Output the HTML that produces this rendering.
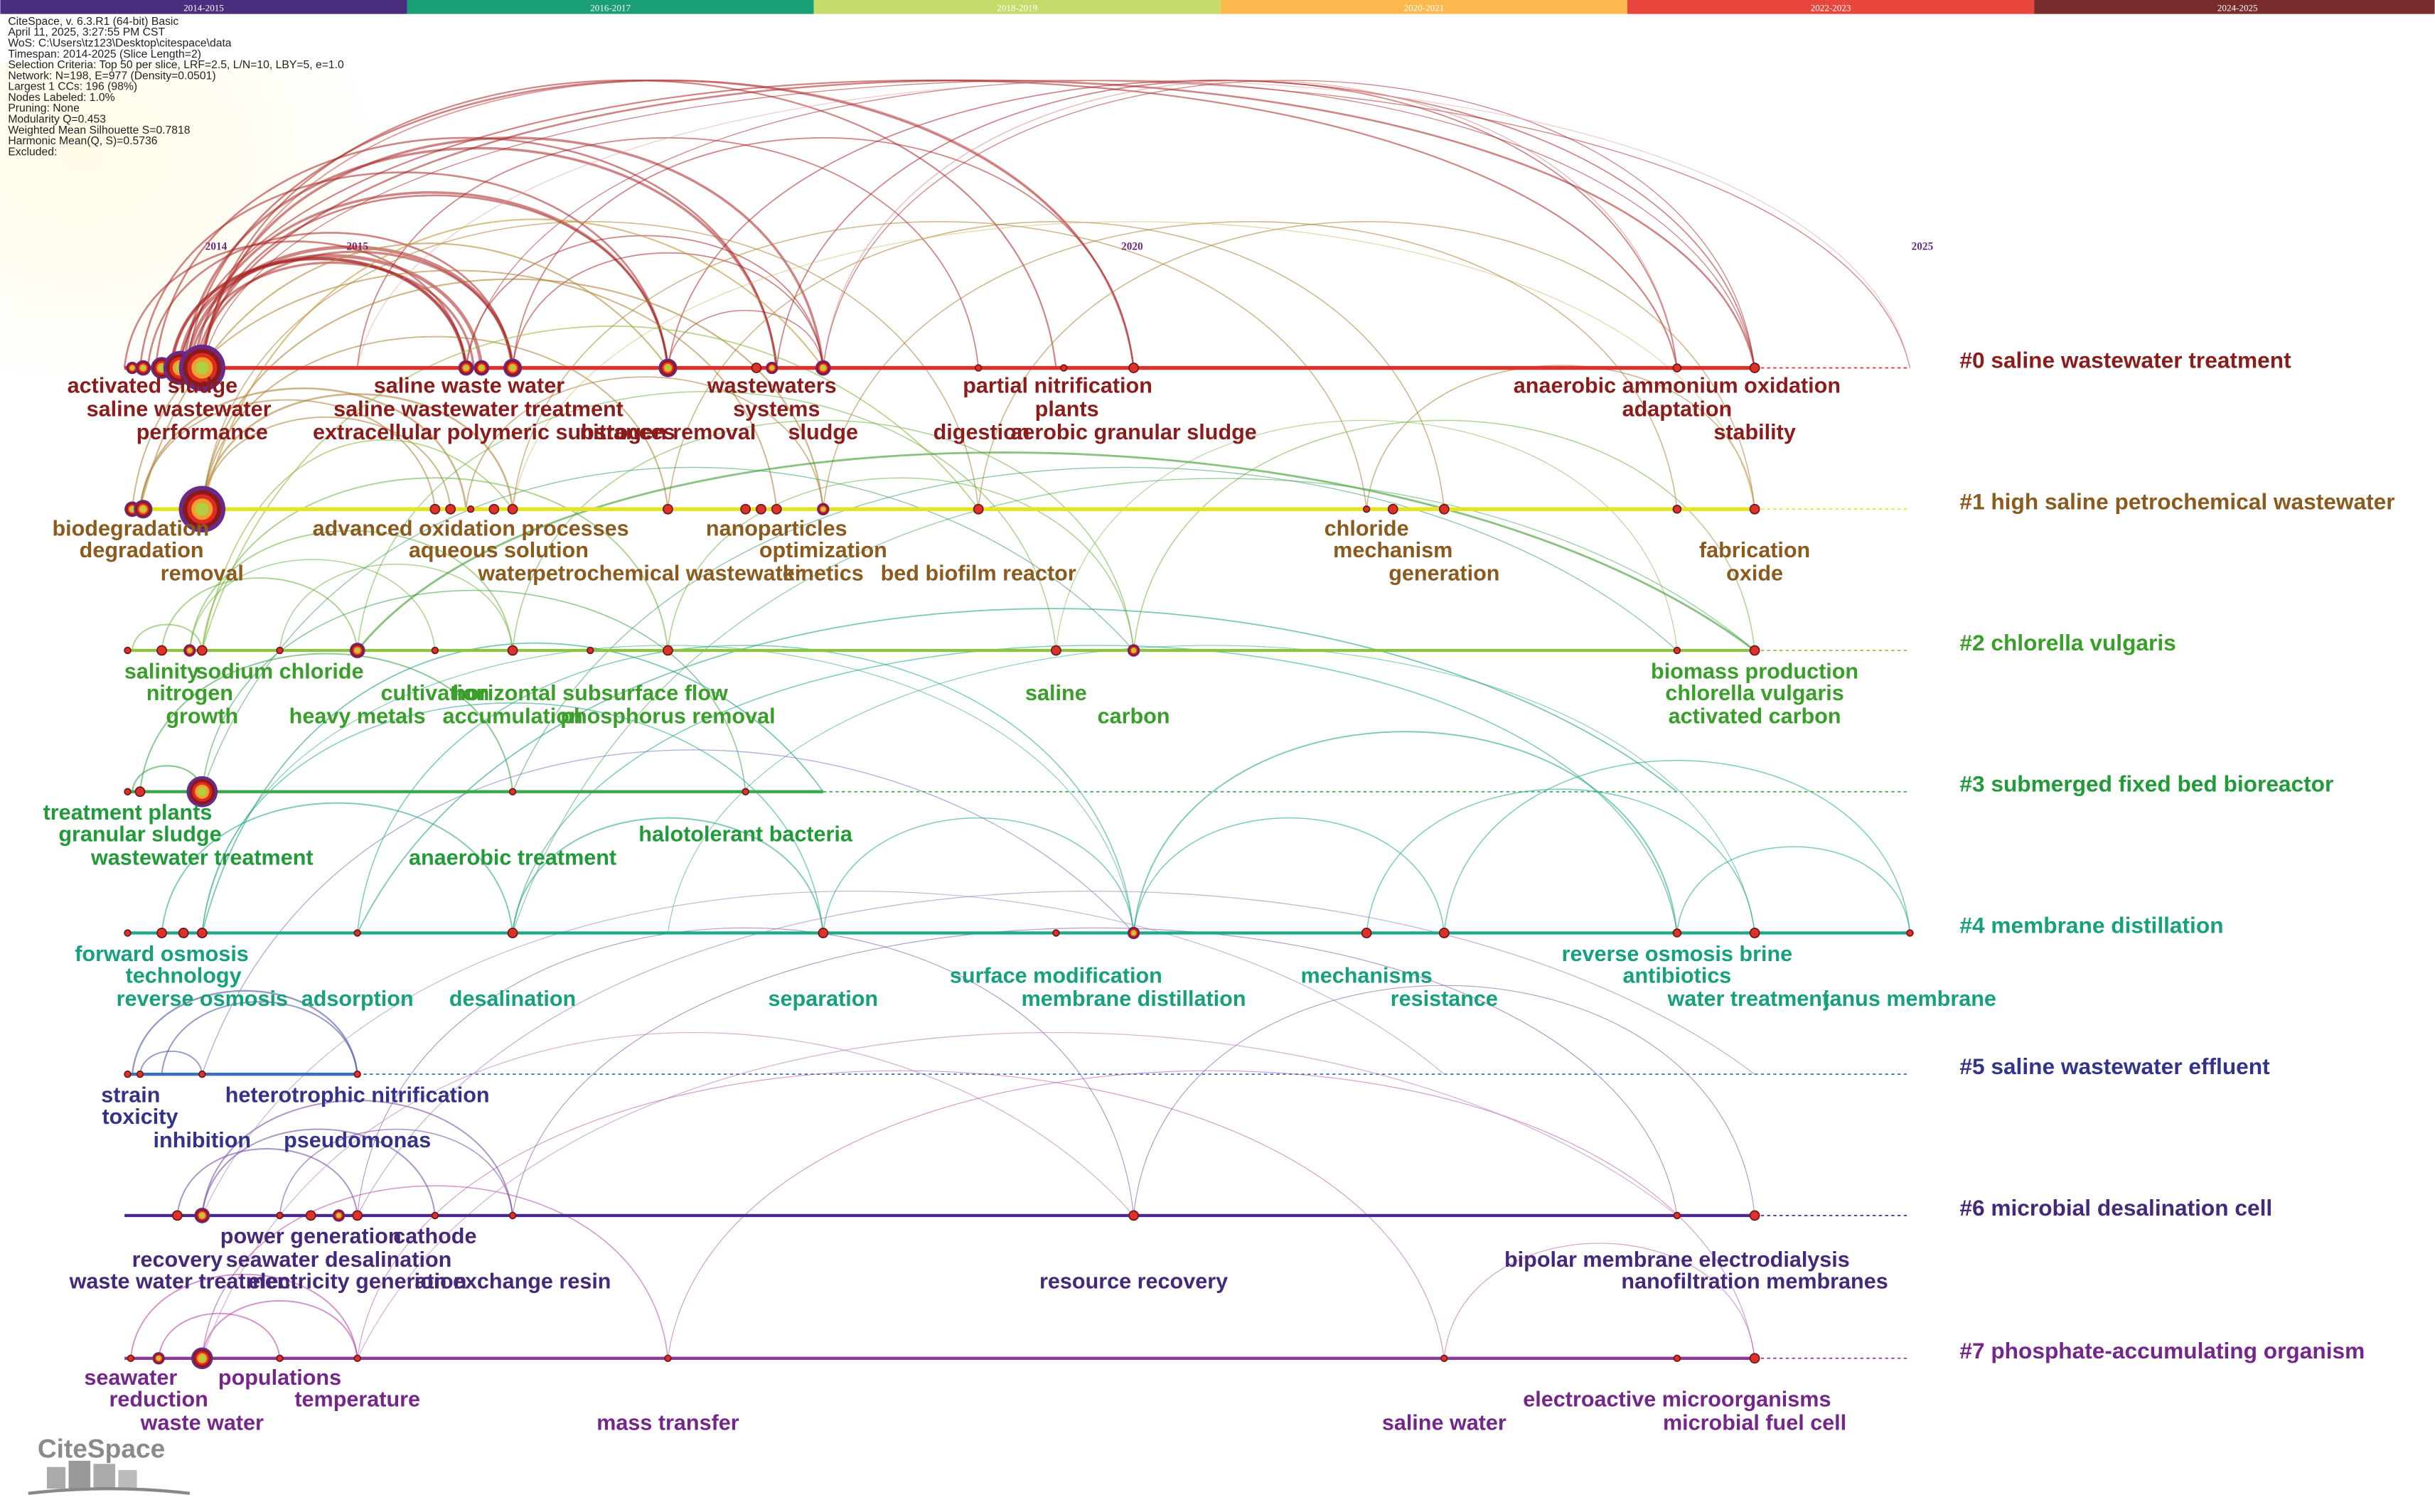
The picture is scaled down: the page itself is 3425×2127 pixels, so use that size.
<!DOCTYPE html>
<html><head><meta charset="utf-8"><style>
html,body{margin:0;padding:0;background:#fff;}
svg{display:block;}
.l{font-family:"Liberation Sans Narrow","Liberation Sans",sans-serif;font-weight:bold;font-size:14px;text-anchor:middle;}
.c{font-family:"Liberation Sans",sans-serif;font-weight:bold;font-size:14.5px;}
.h{font-family:"Liberation Sans Narrow","Liberation Sans",sans-serif;font-size:7.2px;fill:#222;}
.y{font-family:"Liberation Serif",serif;font-size:7px;font-weight:bold;fill:#6a2a7a;text-anchor:middle;}
.b{font-family:"Liberation Serif",serif;font-size:6px;fill:#fff;text-anchor:middle;}
</style></head><body>
<svg id="s" width="3425" height="2127" viewBox="0 0 1568 974" xmlns="http://www.w3.org/2000/svg">
<defs><radialGradient id="gl" cx="0.2" cy="0.3" r="0.8"><stop offset="0" stop-color="#fffbe6"/><stop offset="1" stop-color="#fffbe6" stop-opacity="0"/></radialGradient></defs>
<rect x="0" y="0" width="1568" height="974" fill="#fff"/>
<rect x="0" y="40" width="260" height="200" fill="url(#gl)"/>
<g>
<rect x="0" y="0" width="262" height="9" fill="#4b2d7f"/>
<rect x="262" y="0" width="262" height="9" fill="#1a9e77"/>
<rect x="524" y="0" width="262" height="9" fill="#c5dc6b"/>
<rect x="786" y="0" width="262" height="9" fill="#fdb94e"/>
<rect x="1048" y="0" width="262" height="9" fill="#e8453c"/>
<rect x="1310" y="0" width="258" height="9" fill="#7a2c2c"/>
<text class="b" x="131" y="7">2014-2015</text><text class="b" x="393" y="7">2016-2017</text>
<text class="b" x="655" y="7">2018-2019</text><text class="b" x="917" y="7">2020-2021</text>
<text class="b" x="1179" y="7">2022-2023</text><text class="b" x="1441" y="7">2024-2025</text>
</g>
<g>
<text class="h" x="5" y="16">CiteSpace, v. 6.3.R1 (64-bit) Basic</text>
<text class="h" x="5" y="23">April 11, 2025, 3:27:55 PM CST</text>
<text class="h" x="5" y="30">WoS: C:\Users\tz123\Desktop\citespace\data</text>
<text class="h" x="5" y="37">Timespan: 2014-2025 (Slice Length=2)</text>
<text class="h" x="5" y="44">Selection Criteria: Top 50 per slice, LRF=2.5, L/N=10, LBY=5, e=1.0</text>
<text class="h" x="5" y="51">Network: N=198, E=977 (Density=0.0501)</text>
<text class="h" x="5" y="58">Largest 1 CCs: 196 (98%)</text>
<text class="h" x="5" y="65">Nodes Labeled: 1.0%</text>
<text class="h" x="5" y="72">Pruning: None</text>
<text class="h" x="5" y="79">Modularity Q=0.453</text>
<text class="h" x="5" y="86">Weighted Mean Silhouette S=0.7818</text>
<text class="h" x="5" y="93">Harmonic Mean(Q, S)=0.5736</text>
<text class="h" x="5" y="100">Excluded:</text>
</g>
<text class="y" x="139" y="161">2014</text><text class="y" x="230" y="161">2015</text>
<text class="y" x="729" y="161">2020</text><text class="y" x="1238" y="161">2025</text>
<g id="arcs" fill="none"></g>
<g id="lines"></g>
<g id="nodes"></g>
<g>
<g fill="#8b1c1c">
<text class="l" x="98" y="253">activated sludge</text><text class="l" x="115" y="268">saline wastewater</text><text class="l" x="130" y="283">performance</text>
<text class="l" x="302" y="253">saline waste water</text><text class="l" x="308" y="268">saline wastewater treatment</text><text class="l" x="318" y="283">extracellular polymeric substances</text><text class="l" x="430" y="283">nitrogen removal</text>
<text class="l" x="497" y="253">wastewaters</text><text class="l" x="500" y="268">systems</text><text class="l" x="530" y="283">sludge</text>
<text class="l" x="681" y="253">partial nitrification</text><text class="l" x="687" y="268">plants</text><text class="l" x="632" y="283">digestion</text><text class="l" x="730" y="283">aerobic granular sludge</text>
<text class="l" x="1080" y="253">anaerobic ammonium oxidation</text><text class="l" x="1080" y="268">adaptation</text><text class="l" x="1130" y="283">stability</text>
<text class="c" x="1262" y="237">#0 saline wastewater treatment</text>
</g>
<g fill="#8a5a1e">
<text class="l" x="84" y="345">biodegradation</text><text class="l" x="91" y="359">degradation</text><text class="l" x="130" y="374">removal</text>
<text class="l" x="303" y="345">advanced oxidation processes</text><text class="l" x="321" y="359">aqueous solution</text><text class="l" x="326" y="374">water</text><text class="l" x="430" y="374">petrochemical wastewater</text>
<text class="l" x="500" y="345">nanoparticles</text><text class="l" x="530" y="359">optimization</text><text class="l" x="530" y="374">kinetics</text><text class="l" x="630" y="374">bed biofilm reactor</text>
<text class="l" x="880" y="345">chloride</text><text class="l" x="897" y="359">mechanism</text><text class="l" x="930" y="374">generation</text>
<text class="l" x="1130" y="359">fabrication</text><text class="l" x="1130" y="374">oxide</text>
<text class="c" x="1262" y="328">#1 high saline petrochemical wastewater</text>
</g>
<g fill="#3a9e2a">
<text class="l" x="104" y="437">salinity</text><text class="l" x="180" y="437">sodium chloride</text><text class="l" x="122" y="451">nitrogen</text><text class="l" x="130" y="466">growth</text>
<text class="l" x="230" y="466">heavy metals</text><text class="l" x="280" y="451">cultivation</text><text class="l" x="380" y="451">horizontal subsurface flow</text><text class="l" x="330" y="466">accumulation</text><text class="l" x="430" y="466">phosphorus removal</text>
<text class="l" x="680" y="451">saline</text><text class="l" x="730" y="466">carbon</text>
<text class="l" x="1130" y="437">biomass production</text><text class="l" x="1130" y="451">chlorella vulgaris</text><text class="l" x="1130" y="466">activated carbon</text>
<text class="c" x="1262" y="419">#2 chlorella vulgaris</text>
</g>
<g fill="#229a3a">
<text class="l" x="82" y="528">treatment plants</text><text class="l" x="90" y="542">granular sludge</text><text class="l" x="130" y="557">wastewater treatment</text>
<text class="l" x="330" y="557">anaerobic treatment</text><text class="l" x="480" y="542">halotolerant bacteria</text>
<text class="c" x="1262" y="510">#3 submerged fixed bed bioreactor</text>
</g>
<g fill="#17a07c">
<text class="l" x="104" y="619">forward osmosis</text><text class="l" x="118" y="633">technology</text><text class="l" x="130" y="648">reverse osmosis</text>
<text class="l" x="230" y="648">adsorption</text><text class="l" x="330" y="648">desalination</text><text class="l" x="530" y="648">separation</text>
<text class="l" x="680" y="633">surface modification</text><text class="l" x="730" y="648">membrane distillation</text>
<text class="l" x="880" y="633">mechanisms</text><text class="l" x="930" y="648">resistance</text>
<text class="l" x="1080" y="619">reverse osmosis brine</text><text class="l" x="1080" y="633">antibiotics</text><text class="l" x="1126" y="648">water treatment</text><text class="l" x="1230" y="648">janus membrane</text>
<text class="c" x="1262" y="601">#4 membrane distillation</text>
</g>
<g fill="#33338a">
<text class="l" x="84" y="710">strain</text><text class="l" x="90" y="724">toxicity</text><text class="l" x="130" y="739">inhibition</text>
<text class="l" x="230" y="710">heterotrophic nitrification</text><text class="l" x="230" y="739">pseudomonas</text>
<text class="c" x="1262" y="692">#5 saline wastewater effluent</text>
</g>
<g fill="#45287a">
<text class="l" x="114" y="816">recovery</text><text class="l" x="200" y="801">power generation</text><text class="l" x="280" y="801">cathode</text><text class="l" x="218" y="816">seawater desalination</text>
<text class="l" x="118" y="830">waste water treatment</text><text class="l" x="230" y="830">electricity generation</text><text class="l" x="330" y="830">ion exchange resin</text>
<text class="l" x="730" y="830">resource recovery</text><text class="l" x="1080" y="816">bipolar membrane electrodialysis</text><text class="l" x="1130" y="830">nanofiltration membranes</text>
<text class="c" x="1262" y="783">#6 microbial desalination cell</text>
</g>
<g fill="#75268a">
<text class="l" x="84" y="892">seawater</text><text class="l" x="102" y="906">reduction</text><text class="l" x="180" y="892">populations</text><text class="l" x="130" y="921">waste water</text><text class="l" x="230" y="906">temperature</text>
<text class="l" x="430" y="921">mass transfer</text><text class="l" x="930" y="921">saline water</text><text class="l" x="1080" y="906">electroactive microorganisms</text><text class="l" x="1130" y="921">microbial fuel cell</text>
<text class="c" x="1262" y="875">#7 phosphate-accumulating organism</text>
</g>
</g>
<g>
<text x="24" y="939" font-family="Liberation Sans,sans-serif" font-weight="bold" font-size="17" fill="#8a8a8a">CiteSpace</text>
<rect x="30" y="945" width="12" height="14" fill="#aaa"/><rect x="44" y="941" width="14" height="18" fill="#999"/><rect x="60" y="943" width="14" height="16" fill="#aaa"/><rect x="76" y="947" width="12" height="12" fill="#bbb"/>
<path d="M18 962 Q70 956 122 962" stroke="#888" stroke-width="2" fill="none"/>
</g>
</svg>
<script>
var NS="http://www.w3.org/2000/svg";
var R=[237,328,419,510,601,692,783,875];
var LC=["#e0302a","#e4e420","#8cc43c","#3aa84a","#20a88a","#3a6ec0","#4a2a8a","#8a3a9a"];
var AC=["#a82020","#a8782a","#6ab03a","#2a9a3a","#1aa080","#3a4a9a","#6a3a9a","#b03aa0"];
var LE=[1130,1130,1130,530,1230,230,1130,1130];
var arcs=document.getElementById("arcs"),lines=document.getElementById("lines"),nodes=document.getElementById("nodes");
function el(t,a,p){var e=document.createElementNS(NS,t);for(var k in a)e.setAttribute(k,a[k]);p.appendChild(e);return e;}
function arc(r,x1,x2,c,w,o,r2){var y1=R[r],y2=(r2===undefined)?y1:R[r2];var span=Math.abs(x2-x1);var h=Math.min(span*0.38,190);var top=Math.min(y1,y2)-h;
el("path",{d:"M"+x1+" "+y1+" C"+(x1+span*0.05)+" "+(top-h*0.3)+" "+(x2-span*0.05)+" "+(top-h*0.3)+" "+x2+" "+y2,stroke:c,"stroke-width":w,opacity:o},arcs);}
var T=[[0,[[110,300,2.2],[115,310,2.2],[120,330,2.2],[125,430,1.6],[118,500,1.6],[130,530,1.6],[110,300,1.5],[122,305,1.5],[128,330,1.5],[130,680,1],[120,730,1.2],[115,1080,1],[125,1130,1.2],[300,530,0.8],[330,730,0.8],[430,1130,0.8],[500,1080,0.8],[230,630,0.8],[90,430,1.2],[100,500,1.2],[130,1230,0.6],[300,1130,0.6],[530,1130,0.6],[80,300,1.2],[95,330,1.2],[130,430,1.2],[330,530,0.8],[430,530,0.7]]],
[1,[[90,300,1.2],[130,330,1.2],[130,430,0.9],[85,500,0.9],[130,530,1],[300,530,0.8],[130,630,0.7],[330,880,0.7],[430,930,0.7],[530,1080,0.7],[630,1130,0.7],[880,1130,0.7],[90,280,0.9],[130,290,0.9]]],
[2,[[85,130,0.9],[104,230,0.9],[122,330,0.9],[130,430,0.9],[230,680,0.7],[330,730,0.7],[430,730,0.7],[730,1130,0.7],[180,330,0.7],[122,280,0.7],[680,1080,0.5]]],
[3,[[85,130,1],[90,330,0.9],[130,480,0.7]]],
[4,[[104,330,0.9],[130,530,0.7],[230,730,0.7],[330,530,0.9],[330,1080,0.7],[530,730,0.7],[730,930,0.7],[730,1080,0.9],[880,1130,0.7],[930,1230,0.7],[1080,1230,0.7],[130,730,0.5],[430,1130,0.5]]],
[5,[[85,230,1.1],[90,130,0.9],[104,230,0.9]]],
[6,[[114,230,0.9],[130,280,0.9],[130,330,0.9],[180,330,0.7],[230,730,0.5],[730,1130,0.5],[330,1080,0.5]]],
[7,[[84,230,0.9],[102,180,0.9],[130,230,0.9],[130,430,0.7],[230,930,0.5],[430,1130,0.5],[930,1130,0.5]]]];
T.forEach(function(g){var r=g[0];g[1].forEach(function(a){arc(r,a[0],a[1],AC[r],a[2],0.55);});});
[[0,530,1080,"#d08080",0.7],[0,230,1230,"#e0a0a0",0.6],[0,130,730,"#c04040",0.9],[1,330,1130,"#d0b060",0.6]].forEach(function(a){arc(a[0],a[1],a[2],a[3],a[4],0.5);});
function cross(x1,r1,x2,r2,c,w){var y1=R[r1],y2=R[r2];var top=Math.min(y1,y2)-Math.min(Math.abs(x2-x1)*0.35,170);
el("path",{d:"M"+x1+" "+y1+" C"+(x1+(x2-x1)*0.15)+" "+top+" "+(x2-(x2-x1)*0.25)+" "+top+" "+x2+" "+y2,stroke:c,"stroke-width":w,opacity:0.6},arcs);}
cross(230,2,1130,2,"#3a9a2a",1.3);cross(130,1,530,0,"#c09a3a",1);cross(90,1,430,0,"#b08a3a",1);cross(130,2,630,1,"#8ab83a",0.8);
cross(130,2,330,1,"#8ab83a",0.8);cross(230,4,1080,3,"#20a080",0.8);cross(130,4,530,3,"#20a080",0.8);cross(330,4,1130,2,"#50b060",0.6);
cross(130,5,730,4,"#6a7ac0",0.6);cross(230,6,1130,5,"#a080c0",0.6);cross(130,7,730,6,"#c080c0",0.6);cross(230,7,1080,6,"#c080c0",0.6);
cross(130,3,730,2,"#40a060",0.6);cross(330,3,1080,2,"#40a060",0.6);cross(130,6,930,5,"#9a7ac0",0.5);
for(var i=0;i<8;i++){el("line",{x1:80,y1:R[i],x2:LE[i],y2:R[i],stroke:LC[i],"stroke-width":i<2?2.5:2},lines);
el("line",{x1:LE[i],y1:R[i],x2:1230,y2:R[i],stroke:LC[i],"stroke-width":0.8,"stroke-dasharray":"2,2"},lines);}
function node(r,x,s){var y=R[r];var cols=["#6a2a8a","#8a1a1a","#e02a20","#f0a030","#b0d040"];
if(s<=3){el("circle",{cx:x,cy:y,r:s,fill:"#e0302a",stroke:"#6a1a1a","stroke-width":0.8},nodes);return;}
for(var k=0;k<5;k++){el("circle",{cx:x,cy:y,r:s*(1-k*0.18),fill:cols[k]},nodes);}}
[[0,[[85,4],[92,5],[104,7],[116,11],[130,15],[300,5],[310,5],[330,6],[430,6],[487,3],[497,4],[530,5],[630,2],[685,2],[730,3],[1080,2.5],[1130,3]]],
[1,[[85,5],[92,6],[130,15],[280,3],[290,3],[303,2],[318,3],[330,3],[430,3],[480,3],[490,3],[500,3],[530,4],[630,3],[880,2],[897,3],[930,3],[1080,2.5],[1130,3]]],
[2,[[82,2],[104,3],[122,4],[130,3],[180,2],[230,5],[280,2],[330,3],[380,2],[430,3],[680,3],[730,4],[1080,2],[1130,3]]],
[3,[[82,2],[90,3],[130,10],[330,2],[480,2]]],
[4,[[82,2],[104,3],[118,3],[130,3],[230,2],[330,3],[530,3],[680,2],[730,4],[880,3],[930,3],[1080,2.5],[1130,3],[1230,2]]],
[5,[[82,2],[90,2],[130,2],[230,2]]],
[6,[[114,3],[130,5],[180,2],[200,3],[218,4],[230,3],[280,2],[330,2],[730,3],[1080,2],[1130,3]]],
[7,[[84,2],[102,4],[130,7],[180,2],[230,2],[430,2],[930,2],[1080,2],[1130,3]]]].forEach(function(g){g[1].forEach(function(n){node(g[0],n[0],n[1]);});});
</script>
</body></html>
